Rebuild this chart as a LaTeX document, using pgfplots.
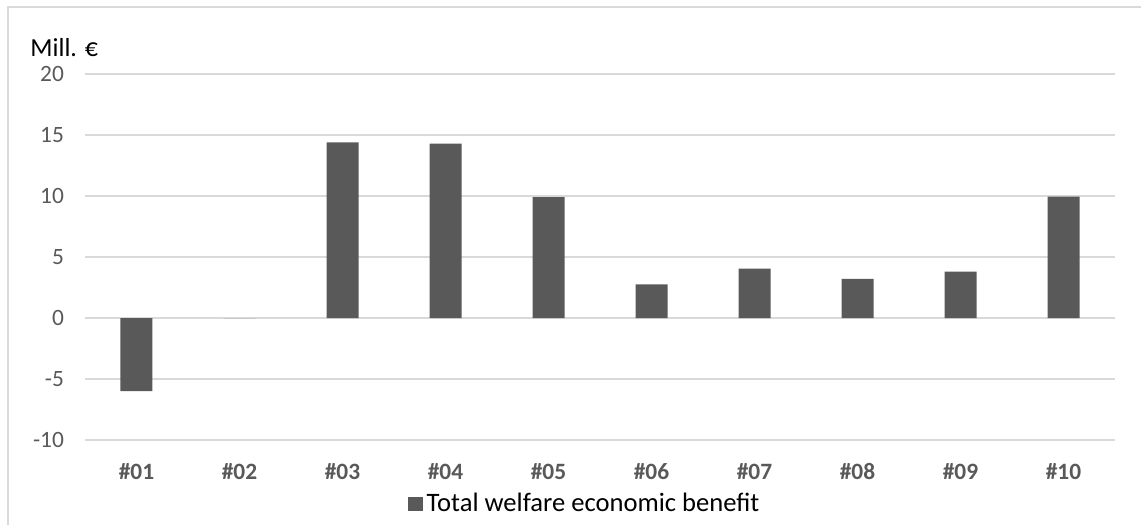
\documentclass[border=0pt]{standalone}
\usepackage{pgfplots}
\pgfplotsset{compat=1.18}
\usepackage{fontspec}
\setmainfont{Carlito}
\definecolor{barc}{HTML}{595959}
\definecolor{gridc}{HTML}{D9D9D9}
\definecolor{tickc}{HTML}{595959}
\begin{document}
\begin{tikzpicture}
% picture frame: pixel (px,py) -> (0.5px pt, 0.5(525-py) pt)
\draw[gridc,line width=0.75pt] (4pt,0pt) -- (4pt,259pt) -- (570.5pt,259pt);
\node[anchor=base west,inner sep=0pt,font=\fontsize{13}{15}\selectfont] at (15pt,234pt) {Mill. €};
\begin{axis}[
  at={(42.5pt,42.5pt)}, anchor=south west,
  scale only axis,
  width=515pt, height=183pt,
  xmin=-0.5, xmax=9.5,
  ymin=-10, ymax=20,
  ytick={-10,-5,0,5,10,15,20},
  xtick={0,...,9},
  xticklabels={\#01,\#02,\#03,\#04,\#05,\#06,\#07,\#08,\#09,\#10},
  axis line style={draw=none},
  tick style={draw=none},
  ymajorgrids,
  grid style={gridc,line width=0.9pt},
  yticklabel style={font=\fontsize{11.7}{13}\selectfont,text=tickc,anchor=east,xshift=-7pt},
  xticklabel style={font=\fontsize{11.7}{13}\selectfont\bfseries,text=tickc,yshift=-4pt},
  /pgf/number format/assume math mode=true,
  ybar, bar width=16pt,
  legend style={draw=none, at={(0.486,-0.175)}, anchor=center,
    font=\fontsize{13.3}{15}\selectfont, inner sep=0pt},
  legend image code/.code={\fill[barc] (-2pt,-3.7pt) rectangle (5.4pt,3.7pt);},
]
\addplot[fill=barc, draw=none, bar shift=0pt] coordinates {
  (0,-6.0) (1,0) (2,14.4) (3,14.3) (4,9.9) (5,2.75) (6,4.05) (7,3.2) (8,3.8) (9,9.95)
};
\addlegendentry{Total welfare economic benefit}
\end{axis}
\pgfresetboundingbox
\path (0pt,0pt) rectangle (570.5pt,262.5pt);
\end{tikzpicture}
\end{document}
